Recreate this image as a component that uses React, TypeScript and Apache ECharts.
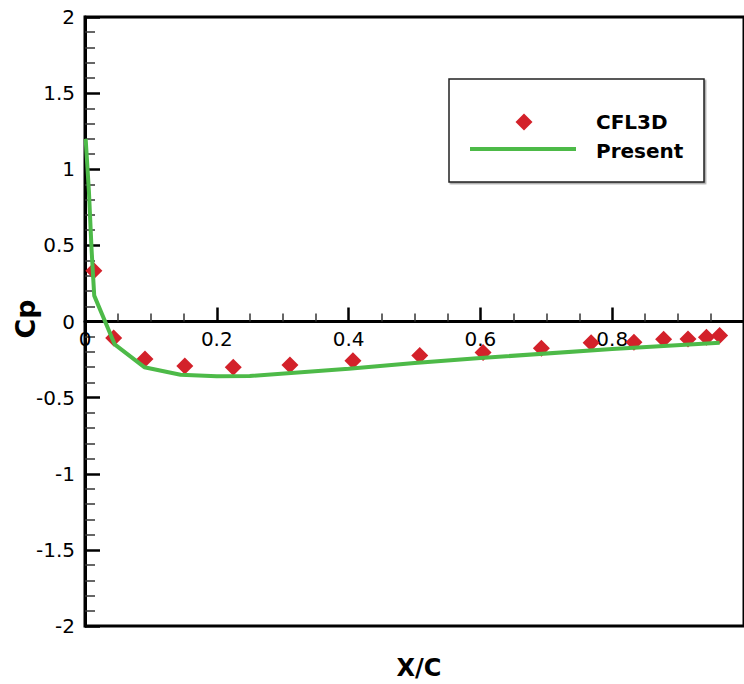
import React, { useEffect, useRef } from "react";
import * as echarts from "echarts";

const presentX = [0.001, 0.006, 0.01, 0.014, 0.045, 0.09, 0.145, 0.2, 0.25, 0.4, 0.5, 0.6, 0.8, 0.963];
const presentCp = [1.2, 0.85, 0.47, 0.17, -0.15, -0.3, -0.35, -0.36, -0.358, -0.31, -0.273, -0.24, -0.18, -0.14];

const cfl3dX = [0.0135, 0.0435, 0.091, 0.1515, 0.225, 0.311, 0.4066, 0.508, 0.604, 0.6925, 0.768, 0.833, 0.878, 0.915, 0.943, 0.963];
const cfl3dCp = [0.334, -0.108, -0.246, -0.292, -0.301, -0.286, -0.257, -0.224, -0.203, -0.176, -0.139, -0.136, -0.117, -0.115, -0.104, -0.092];

const legendNames = ["CFL3D", "Present"];
const xTitle = "X/C";
const yTitle = "Cp";

const RED = "#d3212a";
const GREEN = "#4dba48";
const FONT = "DejaVu Sans";

export default function App() {
  const ref = useRef<HTMLDivElement>(null);
  useEffect(() => {
    if (!ref.current) return;
    const chart = echarts.init(ref.current, null, { renderer: "svg" });
    const option: any = {
      animation: false,
      backgroundColor: "#fff",
      grid: {
        left: 85,
        top: 17,
        bottom: 58,
        right: -7.5,
        show: true,
        borderColor: "#000",
        borderWidth: 3,
        containLabel: false,
      },
      xAxis: {
        type: "value",
        min: 0,
        max: 1,
        interval: 0.2,
        position: "bottom",
        offset: -304.5,
        axisLine: { show: true, onZero: false, lineStyle: { color: "#000", width: 3 } },
        axisTick: { show: true, inside: true, length: 14, lineStyle: { color: "#000", width: 2.5 } },
        minorTick: { show: true, splitNumber: 4, length: 8, lineStyle: { color: "#333", width: 1.5 } },
        splitLine: { show: false },
        axisLabel: {
          show: true,
          margin: 7,
          fontFamily: FONT,
          fontSize: 20,
          color: "#000",
          showMaxLabel: false,
          formatter: (v: number) => (v >= 0.999 ? "" : String(Math.round(v * 10) / 10)),
        },
      },
      yAxis: {
        type: "value",
        min: -2,
        max: 2,
        interval: 0.5,
        axisLine: { show: true, onZero: false, lineStyle: { color: "#000", width: 3 } },
        axisTick: { show: true, inside: true, length: 15, lineStyle: { color: "#000", width: 2.5 } },
        minorTick: { show: true, splitNumber: 5, length: 10, lineStyle: { color: "#333", width: 1.5 } },
        splitLine: { show: false },
        axisLabel: {
          show: true,
          margin: 10,
          fontFamily: FONT,
          fontSize: 20,
          color: "#000",
          formatter: (v: number) => String(v),
        },
      },
      series: [
        {
          name: legendNames[0],
          type: "scatter",
          symbol: "diamond",
          symbolSize: 17,
          itemStyle: { color: RED, opacity: 1 },
          data: cfl3dX.map((x, i) => [x, cfl3dCp[i]]),
          z: 2,
        },
        {
          name: legendNames[1],
          type: "line",
          showSymbol: false,
          symbol: "none",
          lineStyle: { color: GREEN, width: 4 },
          data: presentX.map((x, i) => [x, presentCp[i]]),
          z: 3,
        },
      ],
      graphic: [
        {
          type: "rect",
          shape: { x: 449, y: 79, width: 255, height: 103 },
          style: { fill: "#fff", stroke: "#222", lineWidth: 1.5, shadowColor: "rgba(0,0,0,0.35)", shadowOffsetX: 1.5, shadowOffsetY: 1.5, shadowBlur: 1 },
          z: 10,
        },
        {
          type: "polygon",
          shape: { points: [[524, 113.5], [532.5, 122], [524, 130.5], [515.5, 122]] },
          style: { fill: RED },
          z: 11,
        },
        {
          type: "line",
          shape: { x1: 470, y1: 149, x2: 576, y2: 149 },
          style: { stroke: GREEN, lineWidth: 4 },
          z: 11,
        },
        {
          type: "text",
          x: 596,
          y: 122,
          style: { text: legendNames[0], fontFamily: FONT, fontWeight: "bold", fontSize: 20, fill: "#000", verticalAlign: "middle", align: "left" },
          z: 11,
        },
        {
          type: "text",
          x: 596,
          y: 151,
          style: { text: legendNames[1], fontFamily: FONT, fontWeight: "bold", fontSize: 20, fill: "#000", verticalAlign: "middle", align: "left" },
          z: 11,
        },
        {
          type: "text",
          x: 25,
          y: 319,
          rotation: Math.PI / 2,
          style: { text: yTitle, fontFamily: FONT, fontWeight: "bold", fontSize: 27, fill: "#000", verticalAlign: "middle", align: "center" },
          z: 11,
        },
        {
          type: "text",
          x: 419,
          y: 668,
          style: { text: xTitle, fontFamily: FONT, fontWeight: "bold", fontSize: 24, fill: "#000", verticalAlign: "middle", align: "center" },
          z: 11,
        },
      ],
    };
    chart.setOption(option);
    return () => chart.dispose();
  }, []);
  return (
    <div
      ref={ref}
      style={{ position: "fixed", left: 0, top: 0, width: 744, height: 684, background: "#fff" }}
    />
  );
}
